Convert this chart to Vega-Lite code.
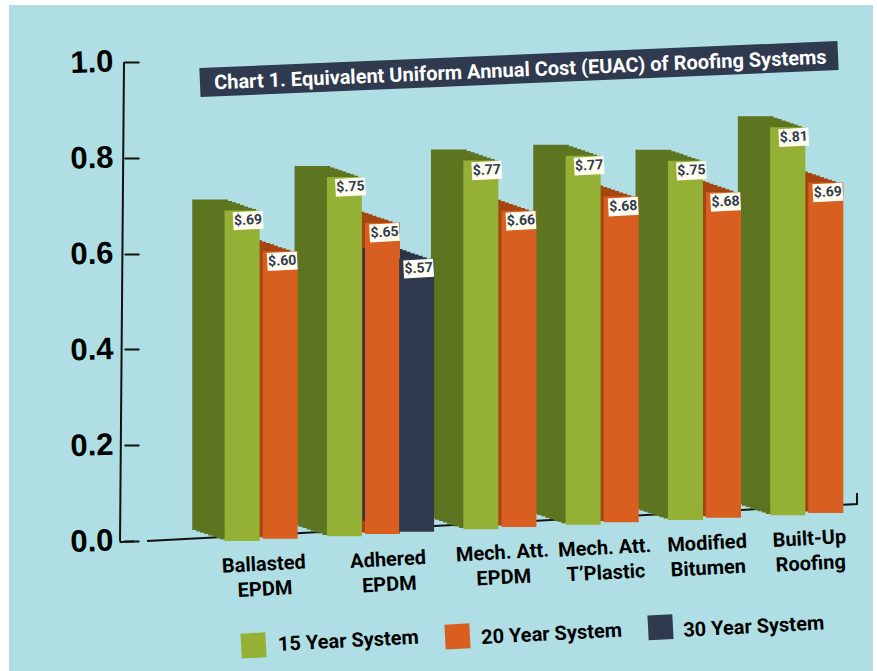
{"$schema":"https://vega.github.io/schema/vega-lite/v6.json","width":864,"height":666,"autosize":"none","padding":{"left":9,"top":5,"right":4,"bottom":0},"background":"white","view":{"fill":"#afdfe4","stroke":null},
"title":{"text":"Chart 1. Equivalent Uniform Annual Cost (EUAC) of Roofing Systems","frame":"group","anchor":"middle","angle":-2.4,"offset":-112,"dx":79,"dy":0,"zindex":1,"color":"white","font":"Roboto","fontWeight":"bold","fontSize":20},
"config":{"axis":{"grid":false}},
"data":{"values":[
{"category":"Ballasted\nEPDM","series":"15 Year System","bar":"B15","cost":0.69,"label":"$.69"},
{"category":"Ballasted\nEPDM","series":"20 Year System","bar":"B20","cost":0.60,"label":"$.60"},
{"category":"Adhered\nEPDM","series":"15 Year System","bar":"A15","cost":0.75,"label":"$.75"},
{"category":"Adhered\nEPDM","series":"20 Year System","bar":"A20","cost":0.65,"label":"$.65"},
{"category":"Adhered\nEPDM","series":"30 Year System","bar":"A30","cost":0.57,"label":"$.57"},
{"category":"Mech. Att.\nEPDM","series":"15 Year System","bar":"M15","cost":0.77,"label":"$.77"},
{"category":"Mech. Att.\nEPDM","series":"20 Year System","bar":"M20","cost":0.66,"label":"$.66"},
{"category":"Mech. Att.\nT’Plastic","series":"15 Year System","bar":"T15","cost":0.77,"label":"$.77"},
{"category":"Mech. Att.\nT’Plastic","series":"20 Year System","bar":"T20","cost":0.68,"label":"$.68"},
{"category":"Modified\nBitumen","series":"15 Year System","bar":"O15","cost":0.75,"label":"$.75"},
{"category":"Modified\nBitumen","series":"20 Year System","bar":"O20","cost":0.68,"label":"$.68"},
{"category":"Built-Up\nRoofing","series":"15 Year System","bar":"U15","cost":0.81,"label":"$.81"},
{"category":"Built-Up\nRoofing","series":"20 Year System","bar":"U20","cost":0.69,"label":"$.69"}
]},
"transform":[{"window":[{"op":"row_number","as":"seq"}]},{"calculate":"(datum.seq-1)*0.00487","as":"base"},{"calculate":"datum.cost+datum.base","as":"top"}],
"encoding":{
"x":{"field":"bar","type":"nominal","axis":null,"scale":{"type":"band","domain":["s0","s1","s2","s3","s4","s5","B15","B20","s6","A15","A20","A30","s7","M15","M20","s8","T15","T20","s9","O15","O20","s10","U15","U20","s11"],"paddingInner":0,"paddingOuter":0.168,"align":1}}
},
"layer":[
{"data":{"values":[{"u":0.1597,"v":0},{"u":0.9815,"v":0.0772},{"u":0.9815,"v":0.1}]},"mark":{"type":"line","stroke":"#111","strokeWidth":2},"encoding":{"x":{"field":"u","type":"quantitative","scale":{"domain":[0,1]},"axis":null},"y":{"field":"v","type":"quantitative"}}},
{"data":{"values":[{"u":0.128,"v":-0.002},{"u":0.1447,"v":-0.001}]},"mark":{"type":"line","stroke":"#111","strokeWidth":2},"encoding":{"x":{"field":"u","type":"quantitative","scale":{"domain":[0,1]},"axis":null},"y":{"field":"v","type":"quantitative"}}},
{"data":{"values":[{"u":0.1285,"v":0},{"u":0.1331,"v":1}]},"mark":{"type":"line","stroke":"#111","strokeWidth":2},"encoding":{"x":{"field":"u","type":"quantitative","scale":{"domain":[0,1]},"axis":null},"y":{"field":"v","type":"quantitative"}}},
{"data":{"values":[{"u":0.221,"v":0.957},{"u":0.9595,"v":1.0136}]},"mark":{"type":"line","stroke":"#2f3a4f","strokeWidth":29,"strokeCap":"butt"},"encoding":{"x":{"field":"u","type":"quantitative","scale":{"domain":[0,1]},"axis":null},"y":{"field":"v","type":"quantitative"}}},
{"mark":{"type":"bar","xOffset":-4,"x2Offset":-4,"yOffset":-1.4,"y2Offset":-1.4,"width":{"band":1.05}},"encoding":{"y":{"field":"top","type":"quantitative","scale":{"domain":[-0.2714,1.119],"nice":false,"zero":false},"axis":{"values":[0,0.2,0.4,0.6,0.8,1],"format":".1f","domain":false,"tickSize":-15,"tickWidth":2,"tickColor":"#111","labelColor":"#000","offset":-115,"labelPadding":26,"labelFont":"Liberation Sans","labelFontWeight":"bold","labelFontSize":31,"labelAngle":-2,"title":null}},"y2":{"field":"base"},"fill":{"field":"series","scale":{"domain":["30 Year System","20 Year System","15 Year System"],"range":["#2a3448","#a5450f","#5d7520"]},"legend":null}}},
{"mark":{"type":"bar","xOffset":-8,"yOffset":-2.8,"y2Offset":-2.8,"width":{"band":1.05}},"encoding":{"y":{"field":"top","type":"quantitative"},"y2":{"field":"base"},"fill":{"field":"series","legend":null}}},
{"mark":{"type":"bar","xOffset":-12,"yOffset":-4.1,"y2Offset":-4.1,"width":{"band":1.05}},"encoding":{"y":{"field":"top","type":"quantitative"},"y2":{"field":"base"},"fill":{"field":"series","legend":null}}},
{"mark":{"type":"bar","xOffset":-16,"yOffset":-5.5,"y2Offset":-5.5,"width":{"band":1.05}},"encoding":{"y":{"field":"top","type":"quantitative"},"y2":{"field":"base"},"fill":{"field":"series","legend":null}}},
{"mark":{"type":"bar","xOffset":-20,"yOffset":-6.9,"y2Offset":-6.9,"width":{"band":1.05}},"encoding":{"y":{"field":"top","type":"quantitative"},"y2":{"field":"base"},"fill":{"field":"series","legend":null}}},
{"mark":{"type":"bar","xOffset":-24,"yOffset":-8.3,"y2Offset":-8.3,"width":{"band":1.05}},"encoding":{"y":{"field":"top","type":"quantitative"},"y2":{"field":"base"},"fill":{"field":"series","legend":null}}},
{"mark":{"type":"bar","xOffset":-28,"yOffset":-9.6,"y2Offset":-9.6,"width":{"band":1.05}},"encoding":{"y":{"field":"top","type":"quantitative"},"y2":{"field":"base"},"fill":{"field":"series","legend":null}}},
{"mark":{"type":"bar","xOffset":-32,"yOffset":-11,"y2Offset":-11,"width":{"band":1.05}},"encoding":{"y":{"field":"top","type":"quantitative"},"y2":{"field":"base"},"fill":{"field":"series","legend":null}}},
{"transform":[{"filter":"datum.series==='15 Year System'"}],"mark":{"type":"bar","width":35},"encoding":{"y":{"field":"top","type":"quantitative"},"y2":{"field":"base"},"color":{"field":"series","title":null,"scale":{"domain":["15 Year System","20 Year System","30 Year System"],"range":["#94b136","#d95f20","#2f3a4f"]},"legend":{"orient":"none","legendX":232,"legendY":627,"direction":"horizontal","symbolType":"square","symbolSize":620,"symbolStrokeWidth":0,"labelFont":"Roboto","labelFontWeight":"bold","labelFontSize":20,"labelColor":"#000","labelOffset":12,"columnPadding":24,"encode":{"symbols":{"update":{"angle":{"value":-3},"y":{"signal":"13-18*datum.index"}}},"labels":{"update":{"angle":{"value":-3},"dy":{"signal":"-16*datum.index"}}}}}}}},
{"transform":[{"filter":"datum.series!=='15 Year System'"}],"mark":{"type":"bar","width":35,"xOffset":4,"x2Offset":4},"encoding":{"y":{"field":"top","type":"quantitative"},"y2":{"field":"base"},"color":{"field":"series"}}},
{"mark":{"type":"point","shape":"M-1,-0.6H1V0.6H-1Z","filled":true,"fill":"#fffdf0","opacity":1,"size":900,"angle":357,"xOffset":6,"yOffset":10},"encoding":{"y":{"field":"top","type":"quantitative"}}},
{"mark":{"type":"text","font":"Roboto","fontWeight":"bold","fontSize":14,"color":"#2f3a4f","angle":357,"xOffset":6,"yOffset":10},"encoding":{"y":{"field":"top","type":"quantitative"},"text":{"field":"label"}}},
{"transform":[{"filter":"datum.series==='20 Year System'&&datum.bar!=='A20'"}],"mark":{"type":"text","font":"Roboto","fontWeight":"bold","fontSize":20,"lineHeight":25,"lineBreak":"\n","color":"#000","angle":357,"baseline":"top","xOffset":-13,"yOffset":16},"encoding":{"y":{"field":"base","type":"quantitative"},"text":{"field":"category"}}},
{"transform":[{"filter":"datum.bar==='A20'"}],"mark":{"type":"text","font":"Roboto","fontWeight":"bold","fontSize":20,"lineHeight":25,"lineBreak":"\n","color":"#000","angle":357,"baseline":"top","xOffset":9,"yOffset":16},"encoding":{"y":{"field":"base","type":"quantitative"},"text":{"field":"category"}}}
],
"resolve":{"scale":{"x":"independent"}}
}
